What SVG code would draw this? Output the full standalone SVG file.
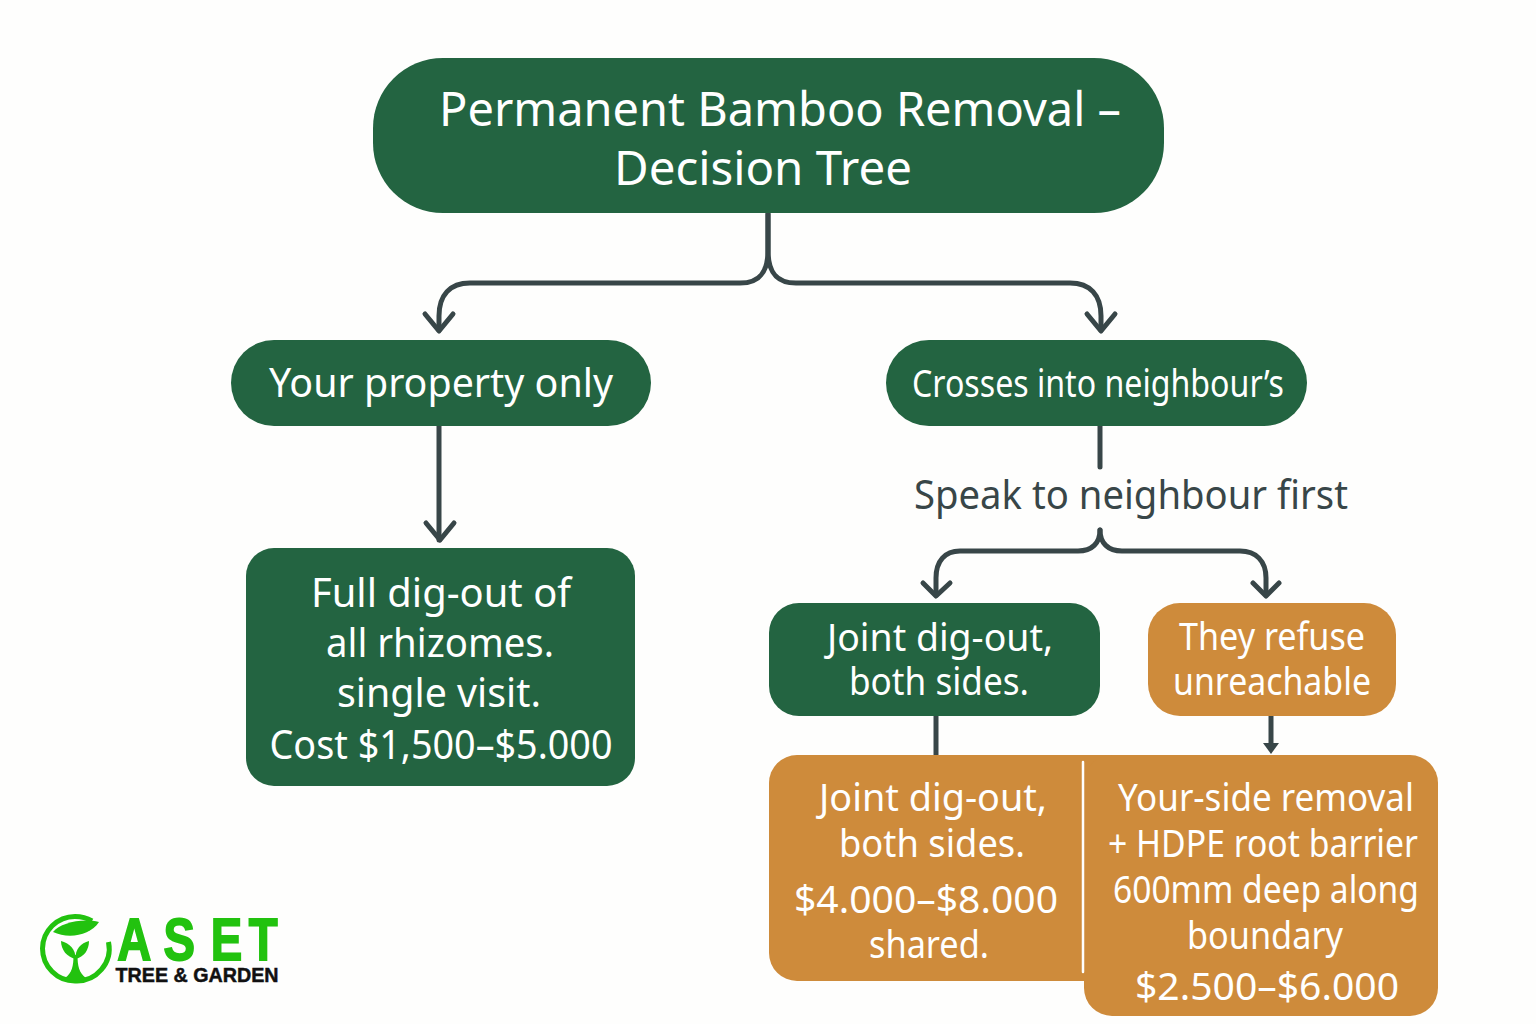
<svg xmlns="http://www.w3.org/2000/svg" width="1536" height="1024" viewBox="0 0 1536 1024">
<style>
text{font-family:"Noto Sans","Open Sans",sans-serif;text-anchor:middle;fill:#fff}
.g{fill:#236441}.o{fill:#ce8b3b}
.c{fill:none;stroke:#384648;stroke-width:5;stroke-linecap:round;stroke-linejoin:round}
.t1{font-size:47px}.t2{font-size:40px}.t3{font-size:38px}.t4{font-size:39px}
.logo{fill:#22c20f}
.lt{font-family:"Liberation Sans",sans-serif;font-weight:700}
</style>
<rect width="1536" height="1024" fill="#fefefd"/>
<g id="connectors">
<path class="c" d="M768 214V250C768 272 760 283 740 283H470C450 283 439 295 439 316V330"/>
<path class="c" d="M768 214V250C768 272 776 283 796 283H1070C1090 283 1101 295 1101 316V330"/>
<path class="c" d="M425 314L439 331L453 314"/>
<path class="c" d="M1087 314L1101 331L1115 314"/>
<path class="c" d="M439 426V540"/>
<path class="c" d="M426 523L440 540L454 523"/>
<path class="c" d="M1100 426V467"/>
<path class="c" d="M1100 530C1100 543 1092 551 1078 551H960C945 551 936 561 936 578V595"/>
<path class="c" d="M1100 530C1100 543 1108 551 1122 551H1240C1256 551 1266 561 1266 578V595"/>
<path class="c" d="M923 583L936 596L950 583"/>
<path class="c" d="M1253 583L1266 596L1279 583"/>
<path d="M936 716V755" fill="none" stroke="#384648" stroke-width="5"/>
<path d="M1271 716V745" fill="none" stroke="#384648" stroke-width="5"/>
<path d="M1263 743H1279L1271 754Z" fill="#384648"/>
</g>
<g id="node-title">
<rect class="g" x="373" y="58" width="791" height="155" rx="70"/>
<text class="t1" x="780" y="126" textLength="682" lengthAdjust="spacingAndGlyphs">Permanent Bamboo Removal –</text>
<text class="t1" x="763" y="185" textLength="298" lengthAdjust="spacingAndGlyphs">Decision Tree</text>
</g>
<g id="node-property">
<rect class="g" x="231" y="340" width="420" height="86" rx="43"/>
<text class="t2" x="441" y="397" textLength="344" lengthAdjust="spacingAndGlyphs">Your property only</text>
</g>
<g id="node-crosses">
<rect class="g" x="886" y="340" width="421" height="86" rx="43"/>
<text class="t3" x="1098" y="397" textLength="372" lengthAdjust="spacingAndGlyphs">Crosses into neighbour’s</text>
</g>
<g id="node-digout">
<rect class="g" x="246" y="548" width="389" height="238" rx="28"/>
<text class="t2" x="441" y="607" textLength="260" lengthAdjust="spacingAndGlyphs">Full dig-out of</text>
<text class="t2" x="440" y="657" textLength="228" lengthAdjust="spacingAndGlyphs">all rhizomes.</text>
<text class="t2" x="439" y="707" textLength="204" lengthAdjust="spacingAndGlyphs">single visit.</text>
<text class="t2" x="441" y="759" textLength="343" lengthAdjust="spacingAndGlyphs">Cost $1,500–$5.000</text>
</g>
<g id="label-speak">
<text class="t2" x="1131" y="509" style="fill:#384648" textLength="434" lengthAdjust="spacingAndGlyphs">Speak to neighbour first</text>
</g>
<g id="node-joint">
<rect class="g" x="769" y="603" width="331" height="113" rx="30"/>
<text class="t3" x="940" y="651" textLength="226" lengthAdjust="spacingAndGlyphs">Joint dig-out,</text>
<text class="t3" x="939" y="695" textLength="180" lengthAdjust="spacingAndGlyphs">both sides.</text>
</g>
<g id="node-refuse">
<rect class="o" x="1148" y="603" width="248" height="113" rx="32"/>
<text class="t3" x="1272" y="650" textLength="186" lengthAdjust="spacingAndGlyphs">They refuse</text>
<text class="t3" x="1272" y="695" textLength="198" lengthAdjust="spacingAndGlyphs">unreachable</text>
</g>
<g id="node-joint-cost">
<rect class="o" x="769" y="755" width="431" height="226" rx="28"/>
<text class="t4" x="933" y="811" textLength="228" lengthAdjust="spacingAndGlyphs">Joint dig-out,</text>
<text class="t4" x="932" y="857" textLength="186" lengthAdjust="spacingAndGlyphs">both sides.</text>
<text class="t4" x="926" y="913" textLength="264" lengthAdjust="spacingAndGlyphs">$4.000–$8.000</text>
<text class="t4" x="929" y="958" textLength="120" lengthAdjust="spacingAndGlyphs">shared.</text>
</g>
<g id="node-side-cost">
<rect class="o" x="1084" y="755" width="354" height="261" rx="28"/>
<path d="M1083 762V972" stroke="#fff" stroke-width="2.5" fill="none" stroke-linecap="round"/>
<text class="t4" x="1266" y="811" textLength="296" lengthAdjust="spacingAndGlyphs">Your-side removal</text>
<text class="t4" x="1263" y="857" textLength="310" lengthAdjust="spacingAndGlyphs">+ HDPE root barrier</text>
<text class="t4" x="1266" y="903" textLength="306" lengthAdjust="spacingAndGlyphs">600mm deep along</text>
<text class="t4" x="1265" y="949" textLength="156" lengthAdjust="spacingAndGlyphs">boundary</text>
<text class="t4" x="1267" y="1000" textLength="264" lengthAdjust="spacingAndGlyphs">$2.500–$6.000</text>
</g>
<g id="logo">
<path d="M108.500 942A32.500 32.500 0 0 1 75 981A32.500 32.500 0 0 1 42.500 948.500A32.500 32.500 0 0 1 75 916.500C81 916.500 87 918 92 921" fill="none" stroke="#22c20f" stroke-width="5"/>
<path class="logo" d="M53 932C60 923 82 918 99 922C90 936 68 939 53 932Z"/>
<path class="logo" d="M61 941C69 943 76 949 75.500 959C67 957 61 950 61 941Z"/>
<path class="logo" d="M89 941C81 943 75 949 75.500 959C84 957 89 950 89 941Z"/>
<path class="logo" d="M73.500 955H77.500C77.500 966 79 973 86 978L80 981H71L65 978C72 973 73.500 966 73.500 955Z"/>
<text class="lt" transform="scale(.8 1)" x="168 224 283 329" y="960" style="fill:#22c20f;stroke:#22c20f;stroke-width:1.800px;font-size:59px">ASET</text>
<text class="lt" x="197" y="982" style="fill:#111;stroke:#111;stroke-width:.5px;font-size:21px" textLength="163" lengthAdjust="spacingAndGlyphs">TREE &amp; GARDEN</text>
</g>
</svg>
